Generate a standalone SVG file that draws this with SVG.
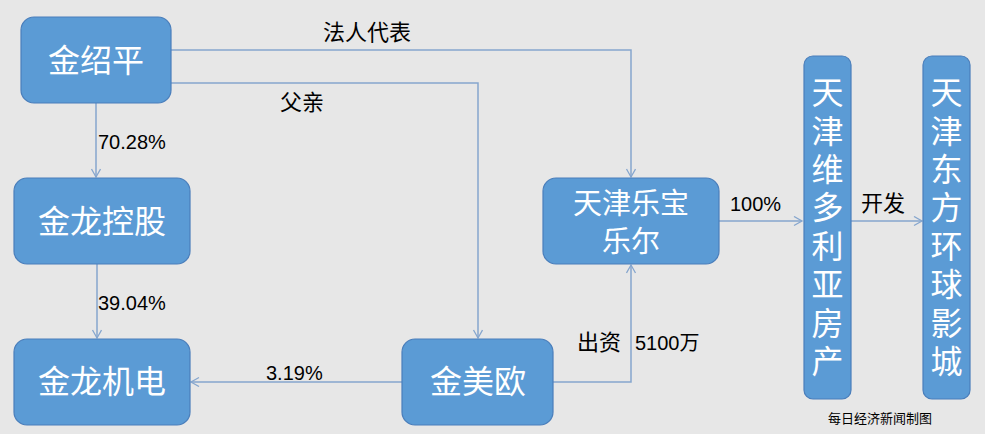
<svg xmlns="http://www.w3.org/2000/svg" width="985" height="434" viewBox="0 0 985 434">
<defs>
<style>
.node{fill:#5B9BD5;stroke:#4A7EBB;stroke-width:1.2}
.nt{fill:#FFFFFF;font-family:"Microsoft YaHei","Noto Sans CJK SC",sans-serif;font-size:32px;text-anchor:middle}
.vt{fill:#FFFFFF;font-family:"Microsoft YaHei","Noto Sans CJK SC",sans-serif;font-size:32px;writing-mode:vertical-rl;letter-spacing:6.4px}
.conn{fill:none;stroke:#86A6CE;stroke-width:1.5}
.lbl{fill:#000000;font-family:"SimSun","Noto Sans CJK SC",sans-serif;font-size:22px}
.num{fill:#000000;font-family:"Liberation Sans","Noto Sans CJK SC",sans-serif;font-size:20px}
.cap{fill:#000000;font-family:"Noto Sans CJK SC",sans-serif;font-size:13px}
</style>
<marker id="arr" markerUnits="userSpaceOnUse" markerWidth="12" markerHeight="12" refX="9" refY="5" orient="auto">
<path d="M1,0.5 L9,5 L1,9.5" fill="none" stroke="#86A6CE" stroke-width="1.3"/>
</marker>
</defs>
<rect x="0" y="0" width="985" height="434" fill="#E7E7E7"/>

<g id="connectors">
<path class="conn" d="M171,50 H631 V177" marker-end="url(#arr)"/>
<path class="conn" d="M171,83 H478 V338" marker-end="url(#arr)"/>
<path class="conn" d="M96,103 V177" marker-end="url(#arr)"/>
<path class="conn" d="M97,264 V338" marker-end="url(#arr)"/>
<path class="conn" d="M402,382 H191" marker-end="url(#arr)"/>
<path class="conn" d="M553,382 H631 V265" marker-end="url(#arr)"/>
<path class="conn" d="M719,221 H802" marker-end="url(#arr)"/>
<path class="conn" d="M851,221 H922" marker-end="url(#arr)"/>
<text class="lbl" x="323" y="40">法人代表</text>
<text class="lbl" x="280" y="110">父亲</text>
<text class="num" x="98" y="149">70.28%</text>
<text class="num" x="98" y="310">39.04%</text>
<text class="num" x="266" y="380">3.19%</text>
<text class="num" x="730" y="211">100%</text>
<text class="lbl" x="861" y="211">开发</text>
<text class="lbl" x="577" y="350">出资</text>
<text class="num" x="635" y="350">5100万</text>
</g>

<g id="jin-shaoping">
<rect class="node" x="21" y="17" width="150" height="86" rx="13"/>
<text class="nt" x="96" y="72">金绍平</text>
</g>
<g id="jinlong-holding">
<rect class="node" x="14" y="178" width="176" height="86" rx="13"/>
<text class="nt" x="102" y="233">金龙控股</text>
</g>
<g id="jinlong-jidian">
<rect class="node" x="14" y="339" width="176" height="86" rx="13"/>
<text class="nt" x="102" y="393">金龙机电</text>
</g>
<g id="jinmeiou">
<rect class="node" x="402" y="339" width="151" height="86" rx="13"/>
<text class="nt" x="478" y="393">金美欧</text>
</g>
<g id="tianjin-lebao">
<rect class="node" x="543" y="178" width="176" height="86" rx="13"/>
<text class="nt" x="631" y="214" style="font-size:29px">天津乐宝</text>
<text class="nt" x="631" y="252" style="font-size:29px">乐尔</text>
</g>
<g id="tianjin-weiduoliya">
<rect class="node" x="804" y="56" width="47" height="343" rx="9"/>
<text class="vt" x="827.5" y="76">天津维多利亚房产</text>
</g>
<g id="tianjin-dongfang">
<rect class="node" x="923" y="56" width="47" height="343" rx="9"/>
<text class="vt" x="946.5" y="76">天津东方环球影城</text>
</g>
<text class="cap" x="828" y="423">每日经济新闻制图</text>
</svg>
